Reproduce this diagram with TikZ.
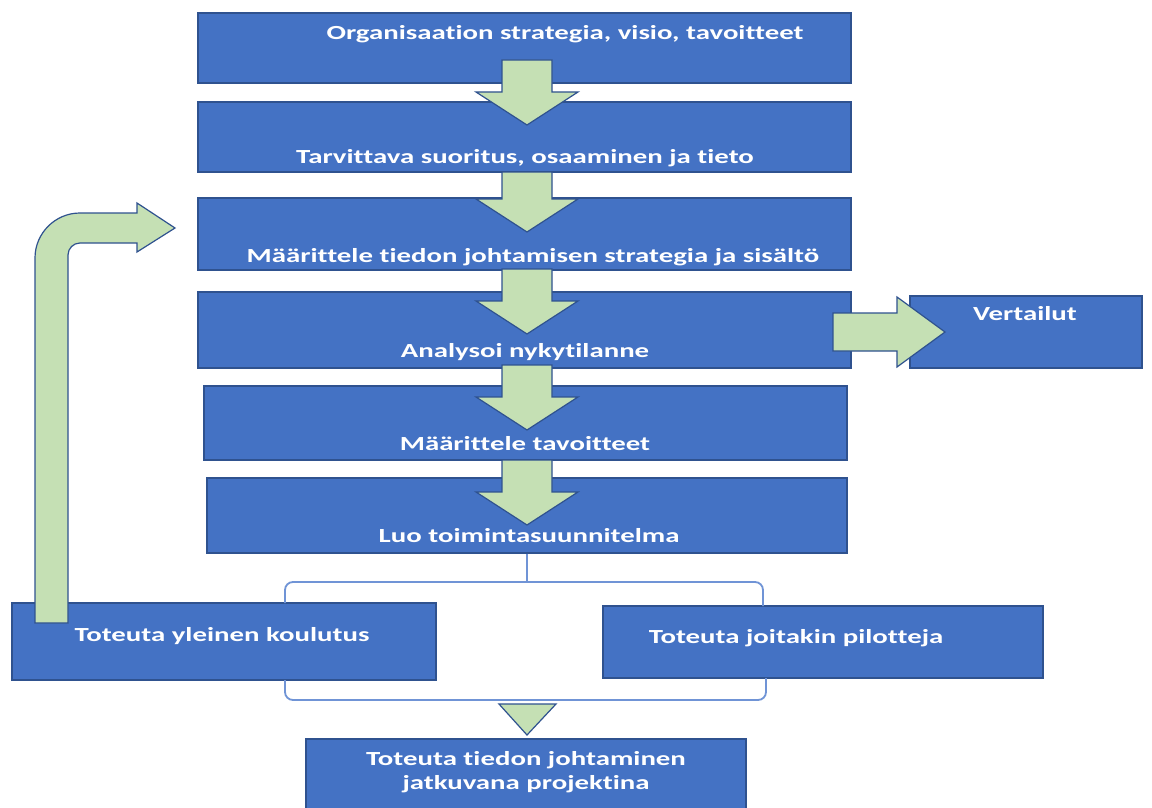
\documentclass[tikz,border=0pt]{standalone}
\usepackage{fontspec}
\usepackage{graphicx}
\newfontfamily\boxfont{Carlito}[Ligatures=NoCommon]
\usetikzlibrary{calc}
\definecolor{boxblue}{HTML}{4472C4}
\definecolor{boxedge}{HTML}{2F528F}
\definecolor{arrowgreen}{HTML}{C5E0B4}
\definecolor{bracketblue}{HTML}{7094D6}
% wide lettering used inside the boxes
\newcommand\widetext[1]{\scalebox{1.44}[1]{\begin{tabular}{@{}c@{}}#1\end{tabular}}}
\tikzset{
  box/.style={draw=boxedge, line width=1.3pt, fill=boxblue, rectangle, inner sep=0pt},
  txt/.style={text=white, font=\boxfont\fontsize{20}{24}\selectfont\bfseries, inner sep=0pt, align=center, yshift=-2.5pt},
  blockarrow/.style={draw=boxedge, line width=1.2pt, fill=arrowgreen, line join=miter},
  bracket/.style={draw=bracketblue, line width=1.8pt, rounded corners=8pt},
  % block arrow drawn upward from its tip; the value is its total length
  downarrow/.pic={
    \path[blockarrow] (0,0) -- (-51,-33) -- (-25,-33) -- (-25,-#1)
      -- (25,-#1) -- (25,-33) -- (51,-33) -- cycle;
  }
}
\begin{document}
\begin{tikzpicture}[x=1pt, y=-1pt]
\useasboundingbox (0,0) rectangle (1152,808);
\fill[white] (0,0) rectangle (1152,808);

% main column of steps
\node[box, minimum width=653pt, minimum height=70pt] (b1) at (524.5,48) {};
\node[txt] (t1) at (565,32) {\widetext{Organisaation strategia, visio, tavoitteet}};
\node[box, minimum width=653pt, minimum height=70pt] (b2) at (524.5,137) {};
\node[txt] (t2) at (525,156.5) {\widetext{Tarvittava suoritus, osaaminen ja tieto}};
\node[box, minimum width=653pt, minimum height=72pt] (b3) at (524.5,234) {};
\node[txt] (t3) at (533,255) {\widetext{Määrittele tiedon johtamisen strategia ja sisältö}};
\node[box, minimum width=653pt, minimum height=76pt] (b4) at (524.5,330) {};
\node[txt] (t4) at (525,350) {\widetext{Analysoi nykytilanne}};
\node[box, minimum width=232pt, minimum height=72pt] (v) at (1026,332) {};
\node[txt] (tv) at (1025,313) {\widetext{Vertailut}};
\node[box, minimum width=643pt, minimum height=74pt] (b5) at (525.5,423) {};
\node[txt] (t5) at (525,443) {\widetext{Määrittele tavoitteet}};
\node[box, minimum width=640pt, minimum height=75pt] (b6) at (527,515.5) {};
\node[txt] (t6) at (529,535) {\widetext{Luo toimintasuunnitelma}};

% two parallel tracks and the final step
\node[box, minimum width=424pt, minimum height=77pt] (b7) at (224,641.5) {};
\node[txt] (t7) at (222,634) {\widetext{Toteuta yleinen koulutus}};
\node[box, minimum width=440pt, minimum height=72pt] (b8) at (823,642) {};
\node[txt] (t8) at (796,636) {\widetext{Toteuta joitakin pilotteja}};
\node[box, minimum width=440pt, minimum height=76pt] (b9) at (526,777) {};
\node[txt] (t9) at (526,770) {\widetext{Toteuta tiedon johtaminen\\jatkuvana projektina}};

% split and join brackets
\coordinate (split) at (527,582);
\draw[bracketblue, line width=1.8pt] (b6.south) -- (split);
\draw[bracket] (285,603) -- (285,582) -- (763,582) -- (763,606);
\draw[bracket] (285,680) -- (285,700) -- (766,700) -- (766,678);

% block arrows between steps
\pic at (527,125) {downarrow=65};
\pic at (527,232) {downarrow=60};
\pic at (527,334) {downarrow=65};
\pic at (527,430) {downarrow=65};
\pic at (527,525) {downarrow=65};

% arrow to the comparison box
\path[blockarrow] (833,313) -- (897,313) -- (897,297) -- (945,332)
  -- (897,367) -- (897,351) -- (833,351) -- cycle;

% merge marker above the final step
\path[blockarrow] (499,704) -- (556,704) -- (527,735) -- cycle;

% feedback arrow from training back to strategy
\path[blockarrow] (35,623) -- (35,258)
  .. controls (35,233.2) and (55.2,213) .. (80,213)
  -- (137,213) -- (137,203) -- (175,228) -- (137,252) -- (137,243)
  -- (80,243) .. controls (73.4,243) and (68,248.4) .. (68,255)
  -- (68,623) -- cycle;
\end{tikzpicture}
\end{document}
